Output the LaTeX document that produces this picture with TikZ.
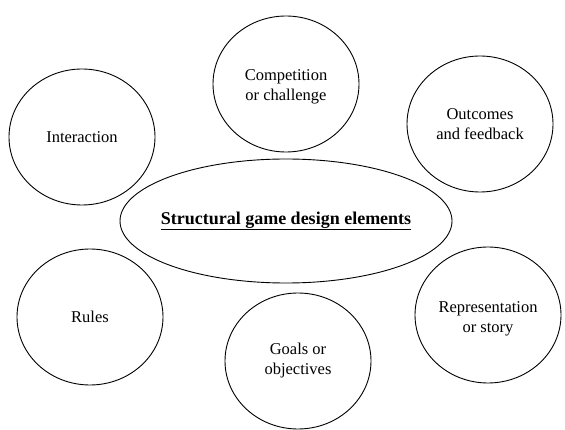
\documentclass[tikz,border=0pt]{standalone}
\usepackage{fontspec}
\setmainfont{Liberation Serif}
\usetikzlibrary{shapes.geometric}
\begin{document}
\begin{tikzpicture}[x=1pt,y=-1pt,
  elem/.style={draw=black,line width=0.9pt,ellipse,minimum width=146pt,minimum height=136pt,inner sep=0pt},
  core/.style={draw=black,line width=0.9pt,ellipse,minimum width=332pt,minimum height=124pt,inner sep=0pt},
  elemtext/.style={align=center,inner sep=0pt,font=\fontsize{16.5}{20}\selectfont},
  coretext/.style={inner sep=0pt,font=\fontsize{18}{21}\selectfont\bfseries}]
\useasboundingbox (0,0) rectangle (565,430);
\fill[white] (0,0) rectangle (565,430);
\node[core] (core) at (286,221) {};
\node[coretext] (coret) at (core.center) {\underline{Structural game design elements}};
\node[elem] (inter) at (82,137) {};
\node[elem] (comp) at (286,84) {};
\node[elem] (out) at (480,124) {};
\node[elem] (rules) at (90,317) {};
\node[elem] (goals) at (298,361) {};
\node[elem] (repr) at (488,315) {};
\node[elemtext] (intert) at (inter.center) {Interaction};
\node[elemtext] (compt) at ([yshift=-3pt]comp.center) {Competition\\or challenge};
\node[elemtext] (outt) at (out.center) {Outcomes\\and feedback};
\node[elemtext] (rulest) at (rules.center) {Rules};
\node[elemtext] (goalst) at (goals.center) {Goals or\\objectives};
\node[elemtext] (reprt) at ([yshift=-4pt]repr.center) {Representation\\or story};
\end{tikzpicture}
\end{document}
